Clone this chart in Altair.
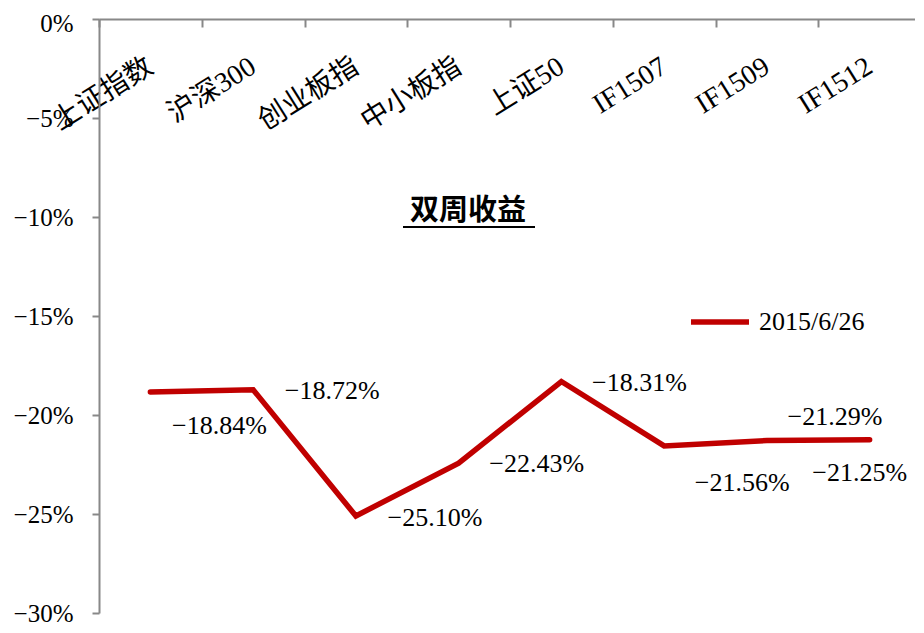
import altair as alt
import pandas as pd

# ---- data ----
categories = ["上证指数", "沪深300", "创业板指", "中小板指", "上证50", "IF1507", "IF1509", "IF1512"]
returns = [-18.84, -18.72, -25.10, -22.43, -18.31, -21.56, -21.29, -21.25]
series_name = "2015/6/26"
y_ticks = [0, -5, -10, -15, -20, -25, -30]
chart_title = "双周收益"

df = pd.DataFrame({"cat": categories, "ret": returns, "series": [series_name] * len(categories)})

# ---- styling ----
W, H = 822, 594
NUM_FONT = "Liberation Serif, Noto Sans CJK SC"
CJK_FONT = "Noto Sans CJK SC"
RED = "#C00000"
GREY = "#888888"

# label placement (align, dx, dy) per category
label_place = {
    "上证指数": ("center", 69, 34),
    "沪深300": ("center", 79, 1),
    "创业板指": ("center", 79, 2),
    "中小板指": ("center", 78, 1),
    "上证50": ("center", 78, 1),
    "IF1507": ("center", 78, 37),
    "IF1509": ("center", 68, -24),
    "IF1512": ("center", -10, 33),
}

x_enc = alt.X(
    "cat:N",
    sort=categories,
    scale=alt.Scale(type="band", paddingInner=0, paddingOuter=0),
    axis=alt.Axis(
        orient="bottom",
        offset=-H,
        title=None,
        tickBand="extent",
        tickSize=8,
        tickWidth=2,
        tickColor=GREY,
        domainColor=GREY,
        domainWidth=2,
        labelAngle=328,
        labelAlign="right",
        labelBaseline="middle",
        labelPadding=37,
        labelFont=NUM_FONT,
        labelFontSize=28,
        labelColor="black",
        grid=False,
    ),
)

y_enc = alt.Y(
    "ret:Q",
    scale=alt.Scale(domain=[-30, 0], nice=False, zero=False),
    axis=alt.Axis(
        values=y_ticks,
        labelExpr="format(datum.value, '.0f') + '%'",
        title=None,
        grid=False,
        tickSize=7,
        tickWidth=2,
        tickColor=GREY,
        domainColor=GREY,
        domainWidth=2,
        labelPadding=19,
        labelOffset={"condition": {"test": "datum.value === 0", "value": 4}, "value": 0},
        labelFont=NUM_FONT,
        labelFontSize=25,
        labelColor="black",
    ),
)

base = alt.Chart(df)

line = base.mark_line(strokeWidth=5.5, strokeCap="round", strokeJoin="miter").encode(
    x=x_enc,
    y=y_enc,
    color=alt.Color(
        "series:N",
        scale=alt.Scale(range=[RED]),
        legend=alt.Legend(
            title=None,
            orient="none",
            legendX=589,
            legendY=271,
            padding=0,
            symbolType="stroke",
            symbolSize=3364,
            symbolStrokeWidth=5.5,
            labelFont=NUM_FONT,
            labelFontSize=26,
            labelColor="black",
            labelOffset=7,
        ),
    ),
)

label_layers = []
for cat in categories:
    align, dx, dy = label_place[cat]
    label_layers.append(
        base.transform_filter(alt.datum.cat == cat)
        .transform_calculate(lbl="format(datum.ret, '.2f') + '%'")
        .mark_text(font=NUM_FONT, fontSize=26, color="black", align=align, baseline="middle", dx=dx, dy=dy)
        .encode(x=alt.X("cat:N", sort=categories), y="ret:Q", text="lbl:N")
    )

title_df = pd.DataFrame({"t": [chart_title]})
title_text = alt.Chart(title_df).mark_text(
    font=CJK_FONT, fontSize=29, fontWeight="bold", color="black", align="center", baseline="middle"
).encode(x=alt.value(369), y=alt.value(192), text="t:N")
underline = alt.Chart(title_df).mark_rule(color="black", strokeWidth=2).encode(
    x=alt.value(304), x2=alt.value(436), y=alt.value(208)
)

chart = (
    alt.layer(line, *label_layers, title_text, underline)
    .properties(
        width=W,
        height=H,
        autosize=alt.AutoSizeParams(type="none"),
        padding={"left": 91, "top": 11, "right": -6, "bottom": 12},
    )
    .configure_view(stroke=None)
)

chart.save("out.html", embed_options={"renderer": "svg", "actions": False})
